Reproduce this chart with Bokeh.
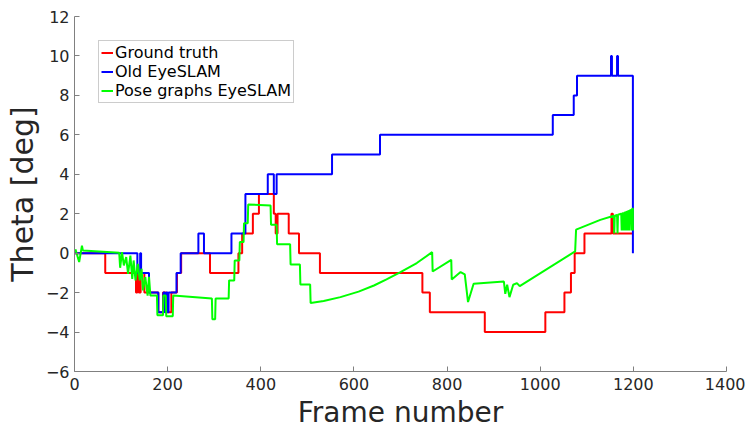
from bokeh.plotting import figure
from bokeh.models import Range1d, FixedTicker
from bokeh.embed import file_html
from bokeh.resources import INLINE

# ---- data (frame, theta in degrees) ----
gt_frames = [0, 66, 132, 135, 138, 142, 150, 180, 190, 197, 208, 220, 229, 291, 352, 360,
             383, 396, 428, 432, 436, 460, 482, 527, 747, 763, 881, 1011, 1052, 1066, 1074,
             1095, 1153, 1156, 1199]
gt_theta = [0, -1, -2, -1, -2, -1, -2, -3, -2, -3, -2, -1, 0, -1, 0, 1,
            2, 3, 2, 1, 2, 1, 0, -1, -2, -3, -4, -3, -2, -1, 0,
            1, 2, 1, 1]

old_frames = [0, 135, 141, 143, 160, 180, 191, 194, 197, 200, 202, 219, 228, 266, 278, 337,
              367, 415, 428, 434, 553, 656, 1027, 1072, 1079, 1152, 1154, 1165, 1167, 1199]
old_theta = [0, -1, 0, -1, -2, -3, -2, -3, -2, -3, -2, -1, 0, 1, 0, 1,
             3, 4, 3, 4, 5, 6, 7, 8, 9, 10, 9, 10, 9, 0]

pg_frames = [2, 10, 16, 18, 96, 98, 102, 106, 111, 115, 120, 124, 127, 131, 136, 140, 144,
             147, 152, 157, 160, 163, 177, 178, 190, 191, 196, 197, 211, 212, 295, 296, 302,
             303, 331, 332, 343, 344, 354, 355, 363, 364, 372, 373, 421, 422, 434, 435, 463,
             464, 484, 485, 506, 507, 535, 571, 610, 643, 670, 700, 735, 768, 769, 809, 810,
             829, 838, 845, 857, 922, 925, 929, 934, 942, 950, 956, 1075, 1077, 1129, 1158,
             1159, 1160, 1165, 1166, 1167, 1174, 1175, 1176, 1178, 1179, 1180, 1182, 1183,
             1184, 1186, 1187, 1188, 1190, 1191, 1192, 1195, 1196, 1197, 1199, 1199]
pg_theta = [0.2, -0.45, 0.38, 0.14, 0.02, -0.74, 0.05, -0.62, -0.2, -1.05, -0.12, -1.3, -0.37,
            -1.38, -0.54, -1.38, -0.79, -1.89, -1.22, -2.15, -1.2, -2.15, -2.15, -3.15, -3.15,
            -2.15, -2.15, -3.2, -3.2, -2.15, -2.3, -3.35, -3.35, -2.3, -2.3, -1.38, -1.38,
            -0.37, -0.37, 0.56, 0.56, 1.52, 1.52, 2.47, 2.42, 1.44, 1.44, 0.45, 0.45, -0.57,
            -0.57, -1.59, -1.59, -2.53, -2.43, -2.23, -1.95, -1.64, -1.33, -0.96, -0.5, 0.05,
            -0.93, -0.34, -1.33, -0.96, -1.08, -2.48, -1.55, -1.44, -2.06, -1.6, -2.23, -1.6,
            -1.52, -1.67, 0.09, 1.19, 1.69, 1.9, 1.0, 1.9, 1.94, 1.0, 1.95, 2.0, 1.15, 2.01,
            2.03, 1.15, 2.04, 2.06, 1.15, 2.08, 2.1, 1.15, 2.12, 2.14, 1.15, 2.16, 2.2, 1.15,
            2.22, 2.28, 1.15]

x_ticks = [0, 200, 400, 600, 800, 1000, 1200, 1400]
y_ticks = [-6, -4, -2, 0, 2, 4, 6, 8, 10, 12]

TXT = "#262626"
FONT = "DejaVu Sans"

p = figure(width=745, height=433, output_backend="svg", toolbar_location=None,
           x_range=Range1d(0, 1400), y_range=Range1d(-6, 12),
           min_border_left=74, min_border_right=19, min_border_top=16, min_border_bottom=62)
p.outline_line_color = None
p.grid.visible = False

p.step(gt_frames, gt_theta, mode="after", line_color="#ff0000", line_width=2,
       legend_label="Ground truth")
p.step(old_frames, old_theta, mode="after", line_color="#0000ff", line_width=2,
       legend_label="Old EyeSLAM")
p.line(pg_frames, pg_theta, line_color="#00ff00", line_width=2,
       legend_label="Pose graphs EyeSLAM")

for ax in (p.xaxis[0], p.yaxis[0]):
    ax.axis_line_color = "#808080"
    ax.major_tick_line_color = "#808080"
    ax.major_tick_in = 5
    ax.major_tick_out = 0
    ax.minor_tick_line_color = None
    ax.major_label_text_color = TXT
    ax.axis_label_text_color = TXT
    ax.axis_label_text_font_style = "normal"
    ax.major_label_text_font = FONT
    ax.axis_label_text_font = FONT

p.xaxis.ticker = FixedTicker(ticks=x_ticks)
p.yaxis.ticker = FixedTicker(ticks=y_ticks)
p.xaxis.axis_label = "Frame number"
p.yaxis.axis_label = "Theta [deg]"

p.xaxis.major_label_text_font_size = "16px"
p.xaxis.major_label_standoff = 6
p.xaxis.axis_label_text_font_size = "28px"
p.xaxis.axis_label_standoff = 3

p.yaxis.major_label_text_font_size = "16px"
p.yaxis.major_label_standoff = 5
p.yaxis.axis_label_text_font_size = "30px"
p.yaxis.axis_label_standoff = 3

lg = p.legend[0]
lg.location = (24, 268)
lg.label_text_font = FONT
lg.label_text_font_size = "16px"
lg.label_text_color = "#000000"
lg.glyph_width = 12
lg.glyph_height = 17
lg.label_height = 17
lg.label_standoff = 2
lg.spacing = 0
lg.padding = 2
lg.margin = 0
lg.border_line_color = "#999999"
lg.border_line_width = 1
lg.background_fill_alpha = 1

open("out.html", "w").write(file_html(p, INLINE))
